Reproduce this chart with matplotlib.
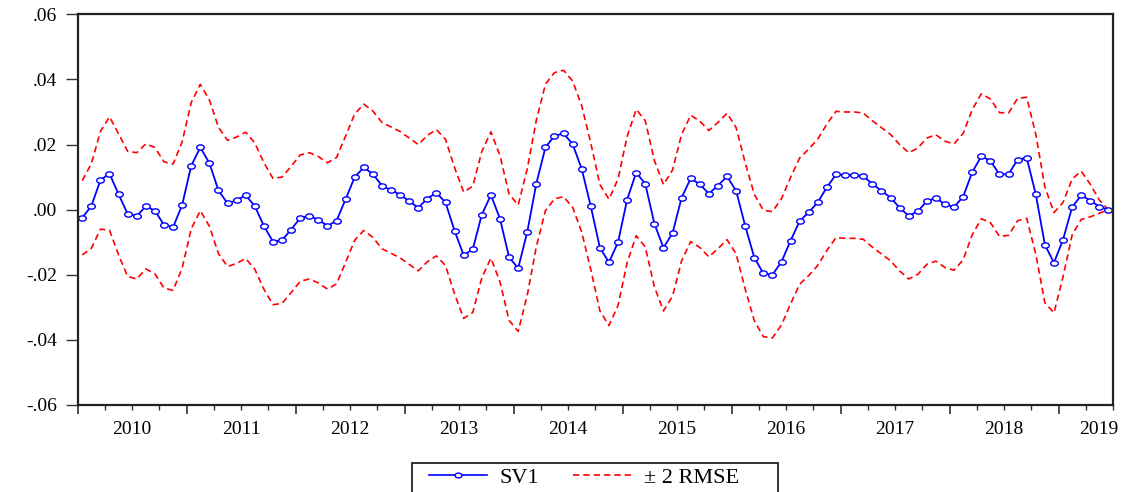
import numpy as np
import matplotlib
matplotlib.use("Agg")
import matplotlib.pyplot as plt
from matplotlib.path import Path
from matplotlib.patches import Rectangle
from matplotlib.transforms import Affine2D, blended_transform_factory
from matplotlib.lines import Line2D

# monthly smoothed state, 2010M01 - 2019M06
sv1 = [
    -0.0025, 0.0011, 0.0090, 0.0111, 0.0047, -0.0013, -0.0019, 0.0010, -0.0003, -0.0047, -0.0054, 0.0014,
    0.0135, 0.0191, 0.0143, 0.0059, 0.0019, 0.0029, 0.0044, 0.0011, -0.0050, -0.0098, -0.0094, -0.0061,
    -0.0026, -0.0019, -0.0031, -0.0050, -0.0034, 0.0032, 0.0100, 0.0130, 0.0109, 0.0074, 0.0060, 0.0046,
    0.0026, 0.0006, 0.0034, 0.0052, 0.0022, -0.0065, -0.0140, -0.0122, -0.0015, 0.0045, -0.0028, -0.0146,
    -0.0180, -0.0069, 0.0080, 0.0191, 0.0227, 0.0234, 0.0201, 0.0125, 0.0010, -0.0117, -0.0162, -0.0100,
    0.0031, 0.0114, 0.0079, -0.0043, -0.0117, -0.0072, 0.0037, 0.0096, 0.0078, 0.0049, 0.0074, 0.0102,
    0.0058, -0.0050, -0.0147, -0.0196, -0.0200, -0.0160, -0.0095, -0.0035, -0.0008, 0.0023, 0.0069, 0.0108,
    0.0106, 0.0106, 0.0103, 0.0079, 0.0058, 0.0037, 0.0006, -0.0019, -0.0005, 0.0026, 0.0036, 0.0016,
    0.0008, 0.0040, 0.0115, 0.0164, 0.0150, 0.0108, 0.0109, 0.0154, 0.0159, 0.0047, -0.0108, -0.0163,
    -0.0092, 0.0008, 0.0044, 0.0028, 0.0009, 0.0000,
]

rmse = [
    0.0057, 0.0065, 0.0075, 0.0087, 0.0093, 0.0096, 0.0097, 0.0096, 0.0097, 0.0097, 0.0097, 0.0097,
    0.0097, 0.0097, 0.0097, 0.0097, 0.0097, 0.0097, 0.0097, 0.0097, 0.0097, 0.0097, 0.0097, 0.0097,
    0.0097, 0.0097, 0.0097, 0.0097, 0.0097, 0.0097, 0.0097, 0.0097, 0.0097, 0.0097, 0.0097, 0.0097,
    0.0097, 0.0097, 0.0097, 0.0097, 0.0097, 0.0097, 0.0097, 0.0097, 0.0097, 0.0097, 0.0097, 0.0097,
    0.0097, 0.0097, 0.0097, 0.0097, 0.0097, 0.0097, 0.0097, 0.0097, 0.0097, 0.0097, 0.0097, 0.0097,
    0.0097, 0.0097, 0.0097, 0.0097, 0.0097, 0.0097, 0.0097, 0.0097, 0.0097, 0.0097, 0.0097, 0.0097,
    0.0097, 0.0097, 0.0097, 0.0097, 0.0097, 0.0097, 0.0097, 0.0097, 0.0097, 0.0097, 0.0097, 0.0097,
    0.0097, 0.0097, 0.0097, 0.0097, 0.0097, 0.0097, 0.0097, 0.0097, 0.0097, 0.0097, 0.0097, 0.0097,
    0.0097, 0.0097, 0.0096, 0.0096, 0.0095, 0.0095, 0.0094, 0.0094, 0.0093, 0.0092, 0.0089, 0.0077,
    0.0057, 0.0043, 0.0037, 0.0025, 0.0010, 0.0000,
]

years = ["2010", "2011", "2012", "2013", "2014", "2015", "2016", "2017", "2018", "2019"]
year_label_pos = [6, 18, 30, 42, 54, 66, 78, 90, 102, 112.4]
yticks = [0.06, 0.04, 0.02, 0.0, -0.02, -0.04, -0.06]
ytick_labels = [".06", ".04", ".02", ".00", "-.02", "-.04", "-.06"]

plt.rcParams["font.family"] = ["Liberation Serif", "DejaVu Serif"]
FS = 14
W, H = 1132, 492

sv1 = np.array(sv1)
rmse = np.array(rmse)
x = np.arange(len(sv1)) + 0.5
upper = sv1 + 2 * rmse
lower = sv1 - 2 * rmse

fig = plt.figure(figsize=(W / 100, H / 100), dpi=100)
ax = fig.add_axes([77.7 / W, 1 - 405 / H, (1113 - 77.7) / W, (405 - 14.3) / H])

# slightly wide ellipse marker (EViews circles look stretched)
ell = Path.unit_circle().transformed(Affine2D().scale(1.45, 1.0))

dash = (0, (3.8, 2.4))
ax.plot(x, upper, color="#ff0000", lw=1.2, linestyle=dash)
ax.plot(x, lower, color="#ff0000", lw=1.2, linestyle=dash)
ax.plot(x, sv1, color="#0000ff", lw=1.3, marker=ell, markersize=5.5,
        markerfacecolor="white", markeredgecolor="#0000ff", markeredgewidth=1.0)

ax.set_xlim(0, len(sv1))
ax.set_ylim(-0.06, 0.06)

ax.set_yticks(yticks)
ax.set_yticklabels(ytick_labels, fontsize=FS)
ax.tick_params(axis="y", direction="out", length=9, width=1.0, pad=6, color="#333333")

ax.set_xticks(np.arange(0, len(sv1) + 1, 12))
ax.set_xticks(np.arange(0, len(sv1) + 1, 3), minor=True)
ax.set_xticklabels([])
ax.tick_params(axis="x", which="major", direction="out", length=6.5, width=1.2, color="#333333")
ax.tick_params(axis="x", which="minor", direction="out", length=3.5, width=1.0, color="#333333")

trans = blended_transform_factory(ax.transData, ax.transAxes)
for pos, yr in zip(year_label_pos, years):
    ax.text(pos, -0.075, yr, transform=trans, ha="center", va="baseline", fontsize=FS)

for side in ["left", "right", "top", "bottom"]:
    ax.spines[side].set_color("#222222")
    ax.spines[side].set_linewidth(1.6)

# legend: frameless legend inside a hand-placed box running off the bottom edge
box = Rectangle((412 / W, -0.05), (778 - 412) / W, 0.05 + 1 - 463 / H,
                transform=fig.transFigure, facecolor="white", edgecolor="#222222",
                lw=1.3, zorder=1)
fig.patches.append(box)

handles = [
    Line2D([], [], color="#0000ff", lw=1.2, marker=ell, markersize=5,
           markerfacecolor="white", markeredgecolor="#0000ff"),
    Line2D([], [], color="#ff0000", lw=1.2, linestyle=dash),
]
LFS = 16
leg = fig.legend(handles, ["SV1", "\u00b1 2 RMSE"], loc="upper left",
                 bbox_to_anchor=(429 / W, 1 - 467 / H), ncol=2, fontsize=LFS,
                 frameon=False, handlelength=2.6, columnspacing=1.5,
                 handletextpad=0.59, borderpad=0.0, borderaxespad=0.0, numpoints=1)
leg.set_zorder(2)

fig.savefig("out.png", dpi=100)
